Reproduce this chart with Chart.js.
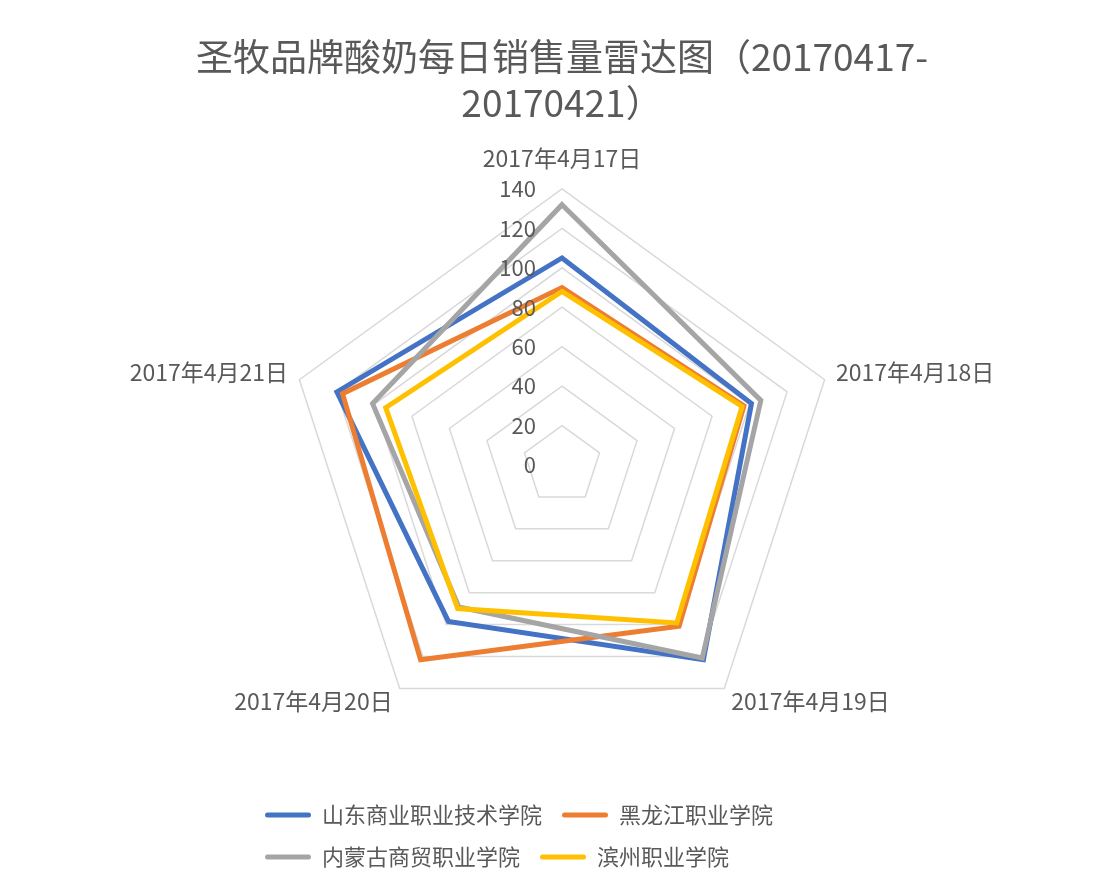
<!DOCTYPE html>
<html>
<head>
<meta charset="utf-8">
<script src="https://cdn.jsdelivr.net/npm/chart.js@4.4.0/dist/chart.umd.min.js"></script>
<style>
  html, body { margin: 0; padding: 0; background: #fff; }
  #wrap { width: 1110px; height: 884px; position: relative; }
</style>
</head>
<body>
<div id="wrap"><canvas id="radar-chart"></canvas></div>
<script>
// data
const dates = ["2017年4月17日", "2017年4月18日", "2017年4月19日", "2017年4月20日", "2017年4月21日"]
const shandong = [105, 101, 122, 98, 120]
const heilongjiang = [90, 97, 101, 122, 117]
const neimenggu = [132, 106, 121, 89, 101]
const binzhou = [88, 96, 99, 90, 94]
const tickValues = [0, 20, 40, 60, 80, 100, 120, 140]
const seriesNames = ["山东商业职业技术学院", "黑龙江职业学院", "内蒙古商贸职业学院", "滨州职业学院"]

const colors = ["#4472C4", "#ED7D31", "#A5A5A5", "#FFC000"]
const FONT = "'Noto Sans CJK SC', 'Noto Sans', sans-serif"
const TEXT = "#595959"
const LEGEND_X = 245
const LEGEND_W = 600

// value labels left of the vertical axis, drawn over the lines like excel does
const tickLabels = {
  id: "tickLabels",
  afterDatasetsDraw(chart) {
    const r = chart.scales.r
    const ctx = chart.ctx
    ctx.save()
    ctx.font = "22px " + FONT
    ctx.fillStyle = TEXT
    ctx.textAlign = "right"
    ctx.textBaseline = "middle"
    r.ticks.forEach((t) => {
      const y = r.yCenter - r.getDistanceFromCenterForValue(t.value)
      ctx.fillText(t.label, r.xCenter - 26, y)
    })
    ctx.restore()
  },
}

// two legend rows, starting under the left part of the chart
const legendRows = {
  id: "legendRows",
  beforeLayout(chart) {
    const lg = chart.legend
    if (lg && !lg._rowPatch) {
      const orig = lg.update
      lg.update = function (w, h, m) {
        return orig.call(this, Math.min(w, LEGEND_W), h, m)
      }
      lg._rowPatch = true
    }
  },
  afterLayout(chart) {
    const lg = chart.legend
    lg.left = LEGEND_X
    lg.right = LEGEND_X + LEGEND_W
    lg.width = LEGEND_W
  },
}

const series = [shandong, heilongjiang, neimenggu, binzhou]

const chart = new Chart(document.querySelector("#radar-chart"), {
  type: "radar",
  data: {
    labels: dates,
    datasets: series.map((vals, i) => ({
      label: seriesNames[i],
      data: vals,
      borderColor: colors[i],
      backgroundColor: colors[i],
      fill: false,
      order: 3 - i,
    })),
  },
  options: {
    responsive: true,
    maintainAspectRatio: false,
    animation: false,
    layout: { padding: { left: 14, right: 0, top: 0, bottom: 6 } },
    elements: {
      line: { borderWidth: 5, tension: 0, borderJoinStyle: "miter" },
      point: { radius: 0, hoverRadius: 0 },
    },
    scales: {
      r: {
        min: tickValues[0],
        max: tickValues[tickValues.length - 1],
        ticks: { stepSize: tickValues[1] - tickValues[0], display: false },
        angleLines: { display: false },
        grid: { color: "#d9d9d9", lineWidth: 1.5 },
        pointLabels: {
          color: TEXT,
          font: { size: 23, family: FONT, lineHeight: 0.3 },
          padding: (c) => (c.index === 0 ? 27 : 12),
        },
      },
    },
    plugins: {
      title: {
        display: true,
        text: ["圣牧品牌酸奶每日销售量雷达图（20170417-", "20170421）"],
        color: TEXT,
        font: { size: 37, weight: "normal", family: FONT, lineHeight: 1.243 },
        padding: { top: 34, bottom: 13 },
      },
      legend: {
        position: "bottom",
        align: "start",
        title: { display: true, text: " ", font: { size: 10 }, padding: { top: 12, bottom: 0 } },
        labels: {
          boxWidth: 46,
          boxHeight: 5,
          padding: 20,
          color: TEXT,
          font: { size: 22, family: FONT },
          generateLabels: (ch) =>
            ch.data.datasets.map((ds, i) => ({
              text: ds.label,
              fillStyle: ds.borderColor,
              strokeStyle: ds.borderColor,
              lineWidth: 0,
              borderRadius: 2.5,
              fontColor: TEXT,
              datasetIndex: i,
              hidden: false,
            })),
        },
      },
      tooltip: { enabled: false },
    },
  },
  plugins: [tickLabels, legendRows],
})
</script>
</body>
</html>
